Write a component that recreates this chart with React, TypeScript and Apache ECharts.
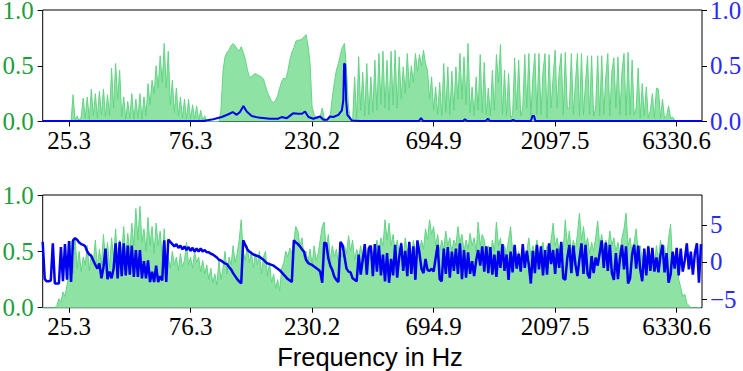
import React, { useEffect, useRef } from "react";
import * as echarts from "echarts";

// x-axis: bin index; tick positions (bins) and their frequency labels (Hz)
const tickBins = [13, 73, 133, 193, 253, 313];
const tickLabels = ["25.3", "76.3", "230.2", "694.9", "2097.5", "6330.6"];

// Top panel: magnitude spectrum (left axis) — one value per bin
const topGreen = [
  0,0,0,0,0,0,0,0,0,0,
  0,0,0,0,0,0.24,0.01,0.05,0.01,0.04,
  0.21,0.03,0.22,0.02,0.29,0.05,0.25,0.03,0.27,0.06,
  0.29,0.04,0.24,0.05,0.48,0.12,0.52,0.2,0.46,0.04,
  0.22,0.02,0.18,0.03,0.25,0.02,0.2,0.03,0.25,0.02,
  0.22,0.05,0.34,0.15,0.37,0.25,0.5,0.3,0.59,0.35,
  0.7,0.3,0.63,0.15,0.37,0.08,0.3,0.05,0.22,0.03,
  0.2,0.02,0.2,0.02,0.15,0.02,0.14,0.01,0.1,0.01,
  0.05,0,0,0,0,0,0,0,0.1,0.45,
  0.58,0.62,0.64,0.68,0.7,0.68,0.65,0.63,0.67,0.62,
  0.56,0.47,0.4,0.4,0.42,0.43,0.42,0.41,0.4,0.38,
  0.32,0.26,0.22,0.18,0.17,0.19,0.23,0.3,0.36,0.39,
  0.38,0.45,0.55,0.62,0.66,0.72,0.73,0.73,0.74,0.76,
  0.78,0.68,0.52,0.13,0.06,0.04,0.02,0.04,0.12,0.03,
  0.01,0.04,0.06,0.22,0.35,0.46,0.52,0.6,0.67,0.7,
  0.46,0.12,0.02,0,0.4,0.03,0.58,0.1,0.44,0.05,
  0.52,0.06,0.4,0.08,0.55,0.1,0.61,0.15,0.63,0.12,
  0.55,0.1,0.63,0.15,0.64,0.12,0.58,0.2,0.49,0.25,
  0.61,0.3,0.5,0.35,0.61,0.45,0.6,0.5,0.64,0.52,
  0.46,0.2,0.4,0.1,0.31,0.06,0.35,0.05,0.52,0.08,
  0.49,0.06,0.45,0.1,0.49,0.2,0.61,0.2,0.58,0.15,
  0.7,0.08,0.31,0.05,0.4,0.1,0.6,0.08,0.53,0.06,
  0.3,0.05,0.46,0.1,0.6,0.35,0.69,0.06,0.46,0.05,
  0.43,0.03,0.06,0.57,0.1,0.55,0.05,0.12,0.6,0.12,
  0.61,0.05,0.4,0.61,0.06,0.61,0.06,0.45,0.61,0.03,
  0.6,0.12,0.4,0.64,0.12,0.45,0.61,0.06,0.62,0.12,
  0.12,0.61,0.06,0.35,0.61,0.05,0.61,0.06,0.35,0.59,
  0.06,0.59,0.05,0.12,0.59,0.05,0.59,0.06,0.4,0.61,
  0.05,0.45,0.57,0.12,0.58,0.06,0.45,0.61,0.05,0.62,
  0.06,0.55,0.06,0.12,0.48,0.03,0.34,0.05,0.31,0.03,
  0.1,0.25,0.03,0.3,0.29,0.03,0.2,0.03,0.05,0.14,
  0.03,0.04,0.01,0,0,0,0,0,0,0,
  0,0,0,0,0,0,
];

// Top panel: blue curve (right axis), [bin, value]
const topBlue = [
  [0, 0.004], [79.2, 0.005], [84.2, 0.02], [88.4, 0.04], [91.7, 0.065], [93.8, 0.085],
  [95.8, 0.06], [97.4, 0.085], [99.1, 0.14], [100.7, 0.09], [103.2, 0.05], [106.5, 0.035],
  [109.8, 0.03], [112.2, 0.025], [116.3, 0.025], [118, 0.04], [120.5, 0.03], [123.8, 0.075],
  [126.2, 0.07], [128, 0.07], [129.5, 0.09], [131.2, 0.04], [133.6, 0.025], [136.9, 0.045],
  [138.6, 0.015], [140.4, 0.015], [141.9, 0.045], [143.5, 0.04], [146, 0.06], [147.7, 0.1],
  [148.4, 0.19], [148.8, 0.52], [149.3, 0.51], [149.8, 0.19], [150.4, 0.06], [152.6, 0.01],
  [156.7, 0.005], [185.8, 0.005], [186.8, 0.03], [187.8, 0.005], [207.5, 0.005], [208.5, 0.02],
  [209.5, 0.005], [218.8, 0.005], [219.8, 0.025], [220.8, 0.005], [231.2, 0.005], [232.2, 0.015],
  [233.2, 0.005], [241, 0.005], [241.8, 0.05], [242.6, 0.05], [243.2, 0.005], [325.5, 0.004],
];

// Bottom panel: magnitude (left axis) — one value per bin
const bottomGreen = [
  0,0,0,0,0,0,0,0.02,0.08,0.05,
  0.14,0.1,0.2,0.32,0.59,0.3,0.62,0.35,0.5,0.32,
  0.45,0.38,0.55,0.33,0.48,0.4,0.6,0.35,0.52,0.38,
  0.65,0.42,0.58,0.35,0.62,0.45,0.7,0.4,0.6,0.48,
  0.72,0.45,0.66,0.5,0.75,0.55,0.88,0.6,0.9,0.58,
  0.7,0.5,0.8,0.55,0.72,0.48,0.75,0.55,0.68,0.45,
  0.7,0.4,0.45,0.35,0.5,0.38,0.45,0.33,0.48,0.36,
  0.42,0.58,0.38,0.45,0.35,0.5,0.4,0.45,0.32,0.42,
  0.3,0.38,0.25,0.35,0.22,0.3,0.2,0.42,0.25,0.35,
  0.5,0.3,0.45,0.38,0.55,0.4,0.48,0.6,0.78,0.5,
  0.42,0.55,0.4,0.5,0.35,0.48,0.38,0.5,0.3,0.45,
  0.5,0.28,0.4,0.22,0.3,0.17,0.25,0.15,0.35,0.4,
  0.5,0.45,0.53,0.48,0.6,0.72,0.68,0.55,0.62,0.45,
  0.5,0.4,0.52,0.38,0.55,0.42,0.48,0.6,0.72,0.76,
  0.5,0.65,0.42,0.55,0.45,0.52,0.4,0.5,0.45,0.55,
  0.48,0.64,0.5,0.6,0.42,0.52,0.45,0.55,0.4,0.5,
  0.44,0.55,0.42,0.5,0.45,0.6,0.5,0.62,0.55,0.78,
  0.6,0.75,0.55,0.65,0.5,0.6,0.48,0.58,0.45,0.62,
  0.5,0.55,0.45,0.6,0.5,0.55,0.48,0.6,0.52,0.7,
  0.6,0.78,0.65,0.72,0.55,0.65,0.5,0.6,0.52,0.68,
  0.55,0.62,0.5,0.6,0.55,0.72,0.58,0.65,0.5,0.6,
  0.52,0.66,0.55,0.62,0.5,0.76,0.55,0.65,0.6,0.48,
  0.55,0.42,0.6,0.5,0.76,0.55,0.62,0.45,0.55,0.48,
  0.6,0.72,0.5,0.55,0.42,0.5,0.4,0.55,0.45,0.5,
  0.62,0.45,0.55,0.48,0.6,0.45,0.52,0.58,0.45,0.55,
  0.5,0.6,0.75,0.55,0.62,0.5,0.58,0.52,0.78,0.55,
  0.68,0.5,0.6,0.52,0.65,0.84,0.6,0.72,0.55,0.62,
  0.48,0.58,0.5,0.62,0.77,0.55,0.65,0.5,0.6,0.52,
  0.68,0.55,0.62,0.5,0.58,0.48,0.62,0.7,0.84,0.55,
  0.62,0.48,0.58,0.7,0.5,0.55,0.42,0.5,0.4,0.55,
  0.45,0.5,0.38,0.55,0.42,0.6,0.45,0.55,0.4,0.62,
  0.74,0.4,0.45,0.5,0.25,0.18,0.1,0.12,0.04,0.02,
  0,0,0,0,0,0,
];

// Bottom panel: blue curve (right axis) — one value per bin
const bottomBlue = [
  2.7,-2.3,-2.6,-2.6,-2.5,2.5,-2.9,-2.9,-2.9,2.0,
  -2.6,2.4,-2.4,2.8,-2.7,2.9,3.2,3.0,2.6,2.4,
  2.3,2.1,1.4,1.0,0.8,0.2,-0.4,-0.9,-0.2,-2.2,
  -0.7,1.8,-2.3,-1.3,-2.2,-0.9,2.5,-2.2,2.7,-1.9,
  2.5,-1.8,2.2,-1.7,2.2,-2.0,1.6,-2.0,1.6,-2.2,
  0.1,-2.2,0.2,-2.7,-1.3,-2.7,-0.5,-2.7,-1.9,-2.5,
  2.9,-2.7,3.0,2.7,2.4,2.1,2.4,1.9,2.2,1.7,
  2.1,1.6,2.0,1.5,1.9,1.4,1.8,1.4,1.8,1.4,
  1.6,1.3,1.3,1.1,1.0,0.8,0.6,0.3,0.2,0.0,
  -0.2,-0.3,-0.7,-1.0,-1.5,-1.9,-2.3,-2.6,-2.9,2.9,
  2.3,1.7,1.4,1.2,1.0,0.9,0.8,0.7,0.5,0.3,
  0.0,-0.2,-0.3,-0.4,-0.5,-0.7,-0.9,-1.1,-1.4,-1.7,
  -2.0,-2.3,-2.5,-2.7,2.9,2.6,2.4,2.1,1.7,1.4,
  0.3,-0.1,-0.3,-0.4,-0.6,-0.8,-1.0,-1.3,-2.8,2.6,
  2.5,0.5,-0.5,-1.1,-2.0,-2.4,-2.7,2.7,2.3,0.7,
  -0.9,-1.3,-1.4,-2.2,-2.4,-2.6,1.0,-1.7,0.3,2.4,
  -1.7,1.8,2.2,-1.9,2.4,-1.3,2.2,-1.8,1.0,-2.6,
  1.2,-2.8,0.4,-1.8,2.3,-2.1,0.6,2.5,-1.2,1.5,
  -1.9,2.7,-1.6,2.1,-2.4,2.9,1.2,-0.9,-1.5,0.4,
  -1.1,-1.2,-0.9,-1.3,0.5,2.3,-2.3,-2.6,1.8,-1.6,
  2.0,-2.1,1.4,-1.2,1.8,-1.6,2.5,-2.3,1.6,-2.1,
  1.3,-1.6,0.1,-1.9,0.2,1.6,-0.5,2.1,-1.3,2.1,
  -1.5,2.0,-1.7,1.0,-2.0,1.5,-0.8,2.4,-1.2,1.0,
  -2.4,1.4,-1.4,2.3,-0.9,1.1,-1.3,2.4,-0.8,1.5,
  -0.4,-2.9,1.5,-1.5,2.3,-1.0,2.1,-1.8,1.6,-1.7,
  2.5,-0.3,1.6,-1.6,1.8,-0.8,2.7,-2.2,-2.4,0.5,
  2.3,-1.5,2.2,-0.3,-1.9,0.4,2.5,-1.6,2.3,-1.6,
  -2.2,0.8,-1.5,0.6,-0.5,1.2,2.9,-0.8,2.6,-1.2,
  2.3,-1.5,-2.4,1.2,-2.3,0.5,2.3,-1.0,2.1,-2.9,
  -2.2,1.0,2.3,-0.9,2.2,-1.0,-2.6,1.8,-1.8,2.1,
  -1.2,1.9,-1.3,0.6,-1.4,0.9,2.3,-1.4,1.2,-2.8,
  -1.7,1.4,-0.9,1.9,-1.8,1.8,-1.3,0.2,2.5,-1.0,
  1.4,-1.7,1.2,2.5,-2.8,2.4,
];

const bottomRightTicks = [-5, 0, 5];
const xLabel = "Frequency in Hz";

const GREEN_LABEL = "#1f9e3c";
const BLUE_LABEL = "#2a2aff";
const FILL = "#8ee3a4";
const EDGE = "#62d484";
const BLUE = "#0000f0";
const SERIF = "'Liberation Serif', 'DejaVu Serif', serif";

export default function App() {
  const ref = useRef<HTMLDivElement>(null);
  useEffect(() => {
    if (!ref.current) return;
    const chart = echarts.init(ref.current, null, { renderer: "svg" });
    const idx = (arr: number[]) => arr.map((v, i) => [i, v]);
    const xFmt = (v: number) => {
      const k = tickBins.indexOf(Math.round(v));
      return k >= 0 ? tickLabels[k] : "";
    };
    const minus = (v: number) => (v < 0 ? "\u2212" + Math.abs(v) : String(v));
    const mkX = (g: number) => ({
      type: "value",
      gridIndex: g,
      min: 0,
      max: 325.5,
      axisLine: { show: false },
      splitLine: { show: false },
      axisTick: { show: true, customValues: tickBins, length: 5, lineStyle: { color: "#000", width: 1 } },
      axisLabel: {
        customValues: tickBins,
        formatter: xFmt,
        fontFamily: SERIF,
        fontSize: 25,
        color: "#000",
        margin: 6,
      },
    });
    const mkY = (g: number, pos: string, color: string, extra: any) => ({
      type: "value",
      gridIndex: g,
      position: pos,
      axisLine: { show: false },
      splitLine: { show: false },
      axisTick: { show: true, length: 5, lineStyle: { color: "#000", width: 1 } },
      ...extra,
      axisLabel: {
        fontFamily: SERIF,
        fontSize: 25,
        lineHeight: 19,
        color,
        margin: pos === "left" ? 9 : 8,
        ...(extra.axisLabel || {}),
      },
    });
    const leftCfg = {
      min: 0,
      max: 1,
      interval: 0.5,
      axisLabel: { formatter: (v: number) => v.toFixed(1) },
    };
    chart.setOption({
      animation: false,
      grid: [
        { left: 42.7, right: 41, top: 10, height: 111.5, show: true, borderColor: "#000", borderWidth: 1, backgroundColor: "transparent", outerBoundsMode: "none" },
        { left: 42.7, right: 41, top: 195, height: 112.7, show: true, borderColor: "#000", borderWidth: 1, backgroundColor: "transparent", outerBoundsMode: "none" },
      ],
      xAxis: [mkX(0), mkX(1)],
      yAxis: [
        mkY(0, "left", GREEN_LABEL, leftCfg),
        mkY(0, "right", BLUE_LABEL, leftCfg),
        mkY(1, "left", GREEN_LABEL, leftCfg),
        mkY(1, "right", BLUE_LABEL, {
          min: -6.15,
          max: 9.0,
          axisTick: { show: true, customValues: bottomRightTicks, length: 5, lineStyle: { color: "#000", width: 1 } },
          axisLabel: { customValues: bottomRightTicks, formatter: minus },
        }),
      ],
      series: [
        {
          type: "line",
          xAxisIndex: 0,
          yAxisIndex: 0,
          data: idx(topGreen),
          symbol: "none",
          lineStyle: { color: EDGE, width: 1 },
          areaStyle: { color: FILL, opacity: 1 },
          z: 2,
        },
        {
          type: "line",
          xAxisIndex: 0,
          yAxisIndex: 1,
          data: topBlue,
          symbol: "none",
          lineStyle: { color: BLUE, width: 2 },
          z: 3,
        },
        {
          type: "line",
          xAxisIndex: 1,
          yAxisIndex: 2,
          data: idx(bottomGreen),
          symbol: "none",
          lineStyle: { color: EDGE, width: 1 },
          areaStyle: { color: FILL, opacity: 1 },
          z: 2,
        },
        {
          type: "line",
          xAxisIndex: 1,
          yAxisIndex: 3,
          data: idx(bottomBlue),
          symbol: "none",
          lineStyle: { color: BLUE, width: 2.5 },
          z: 3,
        },
      ],
      graphic: [
        {
          type: "text",
          x: 370,
          y: 357,
          style: {
            text: xLabel,
            fontFamily: "'Liberation Sans', Arial, sans-serif",
            fontSize: 25.5,
            lineHeight: 24,
            fill: "#000",
            align: "center",
            verticalAlign: "middle",
          },
        },
      ],
    });
    return () => chart.dispose();
  }, []);
  return (
    <div
      ref={ref}
      style={{ position: "absolute", left: 0, top: 0, width: 743, height: 371 }}
    />
  );
}
